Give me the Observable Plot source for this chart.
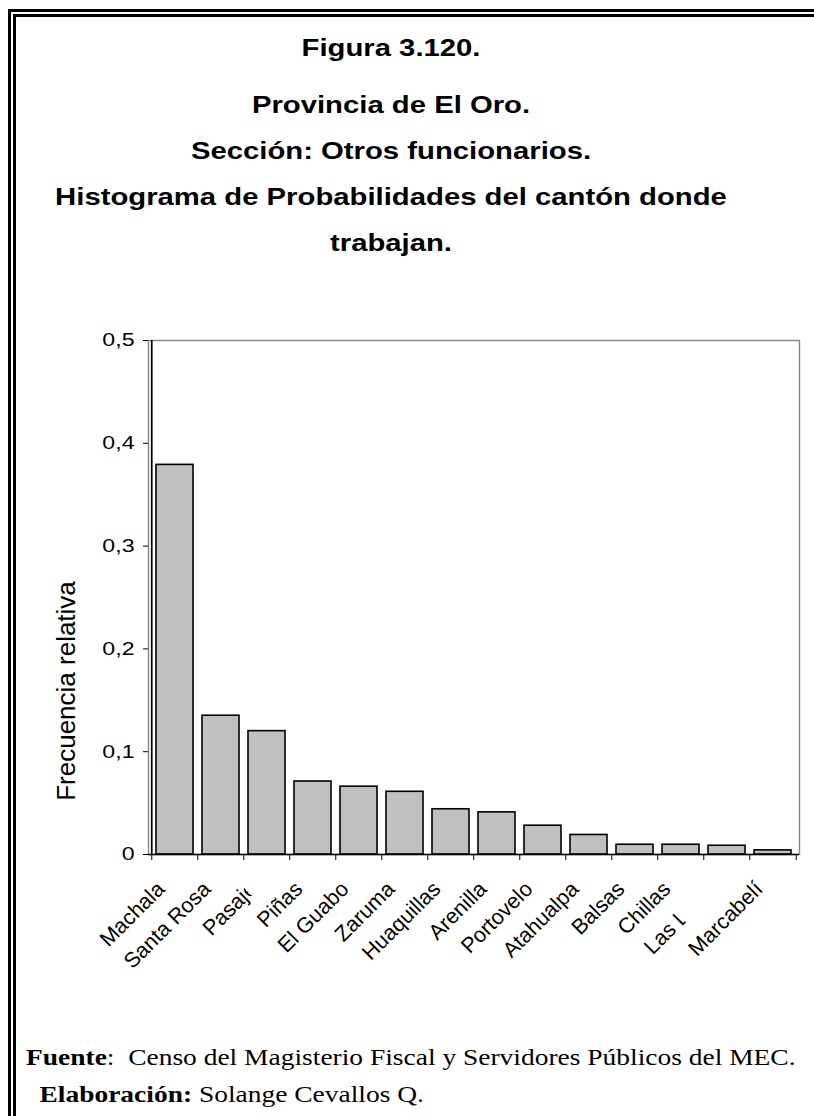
<!DOCTYPE html>
<html><head><meta charset="utf-8">
<script src="https://cdn.jsdelivr.net/npm/d3@7"></script>
<script src="https://cdn.jsdelivr.net/npm/@observablehq/plot@0.6"></script>
<style>
html,body{margin:0;padding:0;background:#fff;overflow:hidden;}
#page{position:relative;width:814px;height:1116px;overflow:hidden;background:#fff;}
#border{position:absolute;left:8px;top:9px;width:900px;height:1300px;border-left:8px double #000;border-top:8px double #000;box-sizing:border-box;}
#overlay{position:absolute;left:0;top:0;}
#chart{position:absolute;left:0;top:300px;}
</style></head>
<body><div id="page"><div id="border"></div><svg id="overlay" width="814" height="1116"></svg><div id="chart"></div></div>
<script>
// ---- data ----
const categories = ["Machala","Santa Rosa","Pasaje","Piñas","El Guabo","Zaruma","Huaquillas","Arenilla","Portovelo","Atahualpa","Balsas","Chillas","Las Lajas","Marcabelí"];
const values = [0.379,0.135,0.120,0.071,0.066,0.061,0.044,0.041,0.028,0.019,0.0095,0.0095,0.0085,0.004];
const yTicks = [0,0.1,0.2,0.3,0.4,0.5];
const titleLines = ["Figura 3.120.","Provincia de El Oro.","Sección: Otros funcionarios.","Histograma de Probabilidades del cantón donde","trabajan."];
const yLabel = "Frecuencia relativa";
const sourceLabel = "Fuente", sourceText = ":  Censo del Magisterio Fiscal y Servidores Públicos del MEC.";
const authorLabel = "Elaboración:", authorText = " Solange Cevallos Q.";
// labels partly hidden in the original (fraction hidden at the end)
const labelClip = {"Pasaje": 0.12, "Las Lajas": 0.49};

const data = categories.map((c, i) => ({cat: c, val: values[i]}));

// ---- layout ----
const W = 814, H = 700, ML = 148, MR = 15, MT = 40, MB = 146;
const padIn = 0.2, padOut = 0.1;
const n = categories.length;
const step = (W - ML - MR) / (n - padIn + 2 * padOut);
const fmt = d => d === 0 ? "0" : d3.format(".1f")(d).replace(".", ",");

const chart = Plot.plot({
  width: W, height: H,
  marginLeft: ML, marginRight: MR, marginTop: MT, marginBottom: MB,
  style: {fontFamily: "'Liberation Sans', Arial, sans-serif", background: "transparent", color: "#000"},
  x: {type: "band", domain: categories, paddingInner: padIn, paddingOuter: padOut},
  y: {domain: [0, 0.5]},
  marks: [
    Plot.frame({stroke: "#858585", strokeWidth: 1.4}),
    Plot.barY(data, {x: "cat", y: "val", fill: "#c0c0c0", stroke: "#000", strokeWidth: 1.6}),
    Plot.axisY({ticks: yTicks, tickSize: 5, tickPadding: 9, tickFormat: fmt, fontSize: 18.5, label: null, stroke: "#000"}),
    Plot.axisX({ticks: categories, tickSize: 6, tickFormat: () => "", dx: -step / 2, label: null, stroke: "#000"}),
    Plot.axisX({ticks: [categories[n - 1]], tickSize: 6, tickFormat: () => "", dx: step / 2, label: null, stroke: "#000"}),
    Plot.ruleX([categories[0]], {dx: -step / 2, stroke: "#000", strokeWidth: 1.7}),
    Plot.ruleY([0], {stroke: "#000", strokeWidth: 1.7}),
    Plot.text(data, {x: "cat", text: "cat", frameAnchor: "bottom", dy: 31, dx: -14, rotate: -45, textAnchor: "end", lineAnchor: "middle", fontSize: 21.5, fill: "#000"})
  ]
});
document.getElementById("chart").appendChild(chart);

// stretch y tick labels horizontally like the original
d3.select(chart).selectAll('g[aria-label="y-axis tick label"] text').each(function() {
  const len = this.getComputedTextLength();
  this.setAttribute("textLength", len * 1.25);
  this.setAttribute("lengthAdjust", "spacingAndGlyphs");
});
// partially hidden labels
d3.select(chart).selectAll("text").each(function() {
  const t = this.textContent;
  if (labelClip[t]) this.style.clipPath = `inset(-5px ${labelClip[t] * 100}% -5px -5px)`;
});

// ---- titles and captions ----
const ov = d3.select("#overlay");
const titleBaselines = [56, 113, 159, 205, 251];
titleLines.forEach((t, i) => {
  ov.append("text")
    .attr("transform", `translate(391,${titleBaselines[i]}) scale(1.22,1)`)
    .attr("text-anchor", "middle")
    .attr("font-family", "'Liberation Sans', Arial, sans-serif")
    .attr("font-weight", "bold")
    .attr("font-size", 24)
    .text(t);
});
ov.append("text")
  .attr("transform", "translate(75,691) rotate(-90)")
  .attr("text-anchor", "middle")
  .attr("font-family", "'Liberation Sans', Arial, sans-serif")
  .attr("font-size", 26)
  .text(yLabel);
function caption(x, y, bold, rest) {
  const t = ov.append("text")
    .attr("transform", `translate(${x},${y}) scale(1.21,1)`)
    .attr("font-family", "'Liberation Serif', 'Times New Roman', serif")
    .attr("font-size", 22.7)
    .style("white-space", "pre");
  t.append("tspan").attr("font-weight", "bold").text(bold);
  t.append("tspan").text(rest);
}
caption(26, 1065, sourceLabel, sourceText);
caption(39.5, 1102, authorLabel, authorText);
</script>
</body></html>
